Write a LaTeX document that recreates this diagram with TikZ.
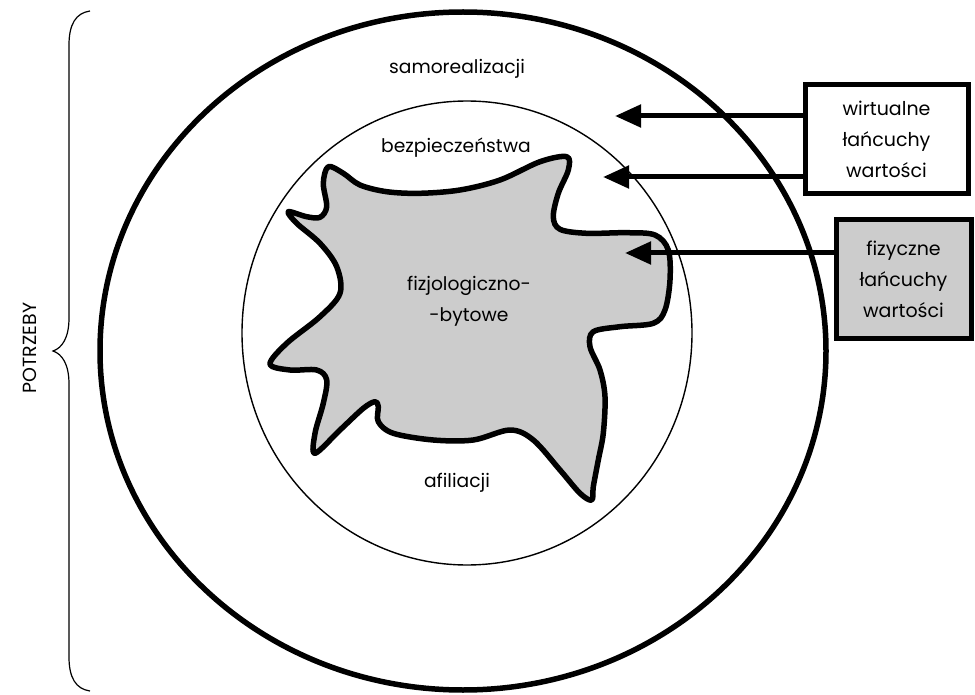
\documentclass[tikz,border=0pt]{standalone}
\usepackage{fontspec}
\setmainfont{Poppins}
\usetikzlibrary{arrows.meta}
\definecolor{fillgray}{RGB}{204,204,204}
\tikzset{
  lbl/.style={font=\fontsize{18.7}{31}\selectfont, align=center, inner sep=0pt},
  chainbox/.style={draw, line width=5pt, align=center, inner sep=0pt,
    font=\fontsize{19}{31}\selectfont},
  arr/.style={line width=5pt, -{Triangle[length=26pt,width=22pt]}},
  blob/.style={draw, line width=5.5pt, fill=fillgray, line join=round},
}
\begin{document}
\begin{tikzpicture}[x=1pt, y=-1pt]
\useasboundingbox (0,0) rectangle (975,695);

% outer and inner rings
\draw[line width=5.5pt] (463,351) ellipse [x radius=363, y radius=339];
\draw[line width=1.4pt] (467,333) ellipse [x radius=225, y radius=232];

% physiological core
\draw[blob] plot[smooth cycle, tension=0.55] coordinates {
  (328.3,166.7) (343.3,173.3) (360,185) (386.7,191.7) (420,193.3) (460,190)
  (500,180) (540,161.7) (566.7,156.7) (568.3,170) (558.3,193.3) (553.3,216.7)
  (560,229.3) (586.7,233.3) (626.7,232.7) (655,235) (668.3,250) (670,280)
  (665,310) (653.3,323.3) (620,326.7) (593.3,331.7) (590,346.7) (600,370)
  (605,396.7) (603.3,433.3) (598.3,460) (593.3,486.7) (591.7,500) (580,493.3)
  (560,470) (533.3,440) (510,430) (473.3,440) (433.3,440) (393.3,433.3)
  (378.3,421.7) (378.3,406.7) (375,401.7) (363.3,408.3) (340,430) (315,453.3)
  (315,433.3) (323.3,403.3) (326.7,380) (316.7,370) (290,370) (270,364)
  (286.7,343.3) (320,316.7) (340,293.3) (336.7,266.7) (320,243.3) (296.7,223.3)
  (288.3,211.7) (306.7,216.7) (320,217.3) (326.7,206.7) (323.3,183.3)
};

% level labels
\node[lbl] (samo) at (457,69) {samorealizacji};
\node[lbl] (bezp) at (456,148) {bezpieczeństwa};
\node[lbl] (fizj) at (469,301) {fizjologiczno-\\-bytowe};
\node[lbl] (afil) at (457,483) {afiliacji};

% value chain boxes
\node[chainbox, minimum width=163pt, minimum height=109pt] (virt) at (886.5,139.5)
  {wirtualne\\łańcuchy\\wartości};
\node[chainbox, fill=fillgray, minimum width=135pt, minimum height=118pt] (phys) at (903.5,279)
  {fizyczne\\łańcuchy\\wartości};

% arrow targets
\coordinate (t1) at (615,116);
\coordinate (t2) at (603,177);
\coordinate (t3) at (625,253);
\draw[arr] (virt.west |- t1) -- (t1);
\draw[arr] (virt.west |- t2) -- (t2);
\draw[arr] (phys.west |- t3) -- (t3);

% brace and its label
\draw[line width=1.2pt] (90,11) .. controls (76,13) and (69,24) .. (69,45)
  -- (69,318) .. controls (69,338) and (62,348) .. (53,351)
  .. controls (62,354) and (69,364) .. (69,384)
  -- (69,657) .. controls (69,678) and (76,689) .. (90,691);
\node[font=\fontsize{19}{22}\selectfont, rotate=90, inner sep=0pt] (potr) at (30,348) {POTRZEBY};
\end{tikzpicture}
\end{document}
